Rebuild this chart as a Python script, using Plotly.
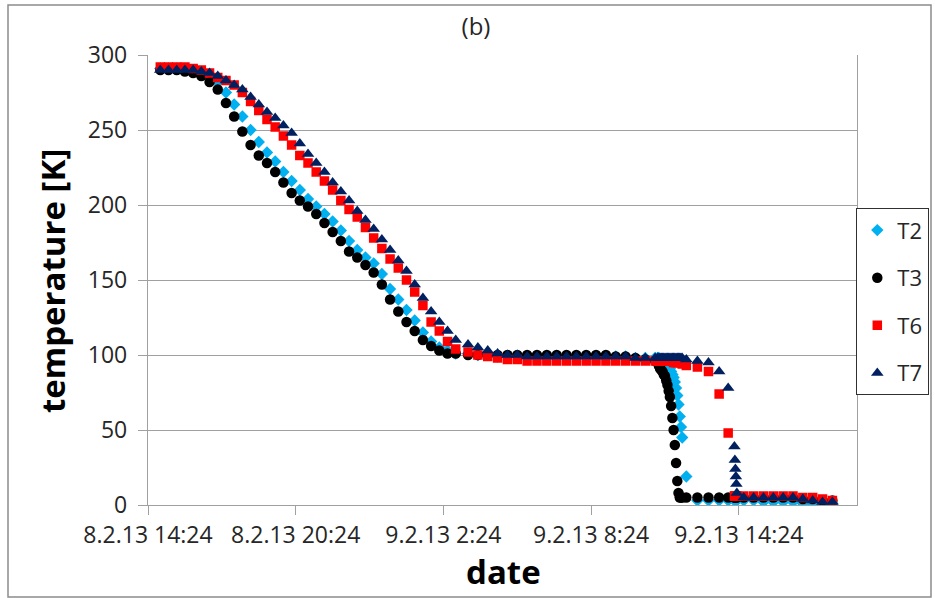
import plotly.graph_objects as go

# shared sampling times (date axis)
times = [
    "2013-02-08 14:54", "2013-02-08 15:14", "2013-02-08 15:34", "2013-02-08 15:54",
    "2013-02-08 16:14", "2013-02-08 16:34", "2013-02-08 16:54", "2013-02-08 17:14",
    "2013-02-08 17:34", "2013-02-08 17:54", "2013-02-08 18:14", "2013-02-08 18:34",
    "2013-02-08 18:54", "2013-02-08 19:14", "2013-02-08 19:34", "2013-02-08 19:54",
    "2013-02-08 20:14", "2013-02-08 20:34", "2013-02-08 20:54", "2013-02-08 21:14",
    "2013-02-08 21:34", "2013-02-08 21:54", "2013-02-08 22:14", "2013-02-08 22:34",
    "2013-02-08 22:54", "2013-02-08 23:14", "2013-02-08 23:34", "2013-02-08 23:54",
    "2013-02-09 00:14", "2013-02-09 00:34", "2013-02-09 00:54", "2013-02-09 01:14",
    "2013-02-09 01:34", "2013-02-09 01:54", "2013-02-09 02:14", "2013-02-09 02:34",
    "2013-02-09 02:54",
    "2013-02-09 03:24", "2013-02-09 03:48", "2013-02-09 04:12", "2013-02-09 04:36",
    "2013-02-09 05:00", "2013-02-09 05:24", "2013-02-09 05:48", "2013-02-09 06:12",
    "2013-02-09 06:36", "2013-02-09 07:00", "2013-02-09 07:24", "2013-02-09 07:48",
    "2013-02-09 08:12", "2013-02-09 08:36", "2013-02-09 09:00", "2013-02-09 09:24",
    "2013-02-09 09:48", "2013-02-09 10:12", "2013-02-09 10:36", "2013-02-09 11:00",
    "2013-02-09 11:06", "2013-02-09 11:09", "2013-02-09 11:12", "2013-02-09 11:15",
    "2013-02-09 11:18", "2013-02-09 11:21", "2013-02-09 11:24", "2013-02-09 11:27",
    "2013-02-09 11:30", "2013-02-09 11:33", "2013-02-09 11:36", "2013-02-09 11:39",
    "2013-02-09 11:42", "2013-02-09 11:45", "2013-02-09 11:48", "2013-02-09 11:51",
    "2013-02-09 11:54", "2013-02-09 11:57", "2013-02-09 12:00", "2013-02-09 12:03",
    "2013-02-09 12:06",
    "2013-02-09 12:16", "2013-02-09 12:43", "2013-02-09 13:10", "2013-02-09 13:36",
    "2013-02-09 13:58",
    "2013-02-09 14:13:12", "2013-02-09 14:14:24", "2013-02-09 14:15:36",
    "2013-02-09 14:16:48", "2013-02-09 14:18:00", "2013-02-09 14:19:12",
    "2013-02-09 14:36", "2013-02-09 15:00", "2013-02-09 15:24", "2013-02-09 15:48",
    "2013-02-09 16:12", "2013-02-09 16:36", "2013-02-09 17:00", "2013-02-09 17:24",
    "2013-02-09 17:48", "2013-02-09 18:12",
]

T2 = [291, 291, 291, 290, 289, 288, 286, 282, 275, 267, 259, 250, 242, 235, 229, 222,
      216, 210, 204, 199, 194, 189, 183, 176, 170, 165, 161, 154, 144, 137, 130, 123,
      115, 109, 105, 103, 101,
      101, 100, 100, 99, 99, 99, 99, 99, 99, 99, 99, 99, 99, 99, 99, 99, 99, 98, 98, 98,
      98, 98, 97, 97, 96, 96, 95, 94, 93, 92, 91, 89, 87, 85, 82, 78, 73, 67, 59, 52, 45,
      19, 3, 3, 3, 3,
      3, 3, 3, 3, 3, 3,
      3, 3, 2, 2, 2, 2, 1, 1, 1, 1]

T3 = [290, 290, 290, 289, 288, 286, 282, 277, 268, 259, 249, 240, 233, 228, 222, 215,
      208, 203, 199, 194, 188, 182, 176, 169, 165, 160, 155, 147, 137, 129, 122, 116,
      110, 106, 103, 101, 101,
      100, 100, 100, 100, 100, 100, 100, 100, 100, 100, 100, 100, 100, 100, 100, 99, 99,
      98, 97, 96,
      95, 93, 91, 90, 89, 87, 86, 83, 80, 76, 72, 66, 58, 50, 40, 28, 16, 8, 5, 5, 5,
      5, 5, 5, 5, 5,
      5, 5, 5, 5, 5, 5,
      5, 5, 5, 5, 5, 5, 4, 4, 3, 3]

T6 = [292, 292, 292, 292, 291, 290, 288, 285, 283, 280, 275, 269, 263, 257, 252, 246,
      240, 233, 228, 222, 216, 210, 203, 197, 192, 185, 178, 171, 164, 158, 150, 142,
      133, 122, 116, 109, 104,
      102, 100, 99, 98, 97, 97, 96, 96, 96, 96, 96, 96, 96, 96, 96, 96, 96, 96, 96, 96,
      96, 96, 96, 96, 96, 96, 96, 96, 96, 96, 96, 96, 96, 95, 95, 95, 95, 95, 95, 95, 94,
      93, 92, 89, 74, 48,
      6, 6, 6, 6, 6, 6,
      6, 6, 6, 6, 6, 6, 5, 5, 4, 3]

T7 = [290, 290, 290, 290, 290, 289, 288, 286, 283, 280, 277, 272, 267, 262, 258, 253,
      248, 241, 234, 228, 222, 215, 209, 203, 196, 190, 184, 177, 170, 163, 156, 147,
      138, 129, 122, 116, 110,
      107, 105, 103, 101, 100, 100, 99, 99, 99, 99, 99, 99, 99, 99, 99, 99, 99, 98, 98, 98,
      98, 98, 98, 98, 98, 98, 98, 98, 98, 98, 98, 98, 98, 98, 98, 98, 98, 98, 98, 98, 98,
      97, 96, 95, 89, 78,
      39, 30, 24, 19, 14, 8,
      5, 5, 5, 5, 5, 5, 4, 3, 2, 2]

x_tickvals = ["2013-02-08 14:24", "2013-02-08 20:24", "2013-02-09 02:24",
              "2013-02-09 08:24", "2013-02-09 14:24"]
x_ticktext = ["8.2.13 14:24", "8.2.13 20:24", "9.2.13 2:24", "9.2.13 8:24", "9.2.13 14:24"]
x_range = ["2013-02-08 14:24", "2013-02-09 19:12"]

series = [
    ("T2", T2, "diamond", "#00B0F0", 9.5),
    ("T3", T3, "circle", "#000000", 10.5),
    ("T6", T6, "square", "#FF0000", 9.5),
    ("T7", T7, "triangle-up", "#002060", 11),
]

FONT = "Open Sans"
TXT = "#262626"
GRID = "#A0A0A0"

fig = go.Figure()
for name, vals, sym, col, sz in series:
    fig.add_trace(go.Scatter(
        x=times, y=vals, mode="markers", name=name, legendgroup=name,
        marker=dict(symbol=sym, color=col, size=sz, line=dict(width=0)),
    ))

L, R, T, B = 148, 78, 55, 93
W, H = 935, 598
pw, ph = W - L - R, H - T - B

def px(x):
    return (x - L) / pw

def py(y):
    return (H - B - y) / ph

fig.update_layout(
    width=W, height=H,
    margin=dict(l=L, r=R, t=T, b=B, pad=0, autoexpand=False),
    paper_bgcolor="white", plot_bgcolor="white",
    font=dict(family=FONT, size=22, color=TXT),
    title=dict(text="(b)", x=476 / W, xanchor="center", y=1 - 27 / H,
               yanchor="middle", font=dict(family=FONT, size=24, color=TXT)),
    showlegend=True,
    legend=dict(x=px(929), xanchor="right", y=py(208), yanchor="top",
                bordercolor="#303030", borderwidth=1.3, bgcolor="white",
                font=dict(family=FONT, size=22, color=TXT),
                tracegroupgap=16, itemwidth=30),
    xaxis=dict(type="date", range=x_range, tickvals=x_tickvals, ticktext=x_ticktext,
               showgrid=False, showline=True, linecolor=GRID, linewidth=1.3,
               ticks="outside", ticklen=9, tickcolor=GRID, tickwidth=1.3,
               tickfont=dict(family=FONT, size=23, color=TXT), zeroline=False),
    yaxis=dict(range=[0, 300], dtick=50, tick0=0, showgrid=True, gridcolor=GRID,
               gridwidth=1.3, showline=True, linecolor=GRID, linewidth=1.3,
               mirror=True, ticks="outside", ticklen=9, tickcolor=GRID, tickwidth=1.3,
               tickfont=dict(family=FONT, size=23, color=TXT), zeroline=False,
               ticklabelstandoff=6),
    annotations=[
        dict(text="<b>temperature [K]</b>", textangle=-90, xref="paper", yref="paper",
             x=px(52), y=py(281), xanchor="center", yanchor="middle", showarrow=False,
             font=dict(family=FONT, size=33, color="#000000")),
        dict(text="<b>date</b>", xref="paper", yref="paper", x=px(503), y=py(571),
             xanchor="center", yanchor="middle", showarrow=False,
             font=dict(family=FONT, size=33, color="#000000")),
    ],
    shapes=[
        dict(type="rect", xref="paper", yref="paper", x0=px(8), x1=px(931),
             y0=py(597), y1=py(5), line=dict(color="#8C8C8C", width=1.5),
             fillcolor="rgba(0,0,0,0)", layer="below"),
    ],
)

fig.write_html("out.html", config={"displayModeBar": False},
               post_script="document.body.style.margin='0';document.body.style.overflow='hidden';")
